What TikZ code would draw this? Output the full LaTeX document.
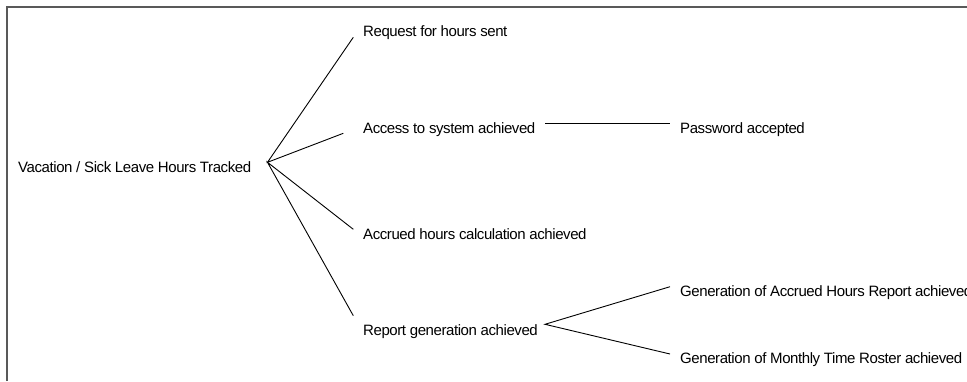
\documentclass[tikz,border=0pt]{standalone}
\usepackage{fontspec}
\setmainfont{Liberation Sans}[LetterSpace=-2.8]
\begin{document}
\begin{tikzpicture}[x=1pt,y=-1pt,
  goal/.style={anchor=base west,inner sep=0pt,font=\fontsize{15}{18}\selectfont},
  link/.style={draw=black,line width=0.9pt},
  frame/.style={draw=black!65,line width=1.6pt}]
\useasboundingbox (0,0) rectangle (967,381);
\clip (0,0) rectangle (967,381);

% frame (open at the bottom and right)
\draw[frame] (7,381) -- (7,7) -- (967,7);

% goals
\node[goal] (root) at (18,172.5) {Vacation / Sick Leave Hours Tracked};
\node[goal] (req)  at (363,36.5) {Request for hours sent};
\node[goal] (acc)  at (363,133) {Access to system achieved};
\node[goal] (accr) at (363,239) {Accrued hours calculation achieved};
\node[goal] (rep)  at (363,335) {Report generation achieved};
\node[goal] (pwd)  at (680,133) {Password accepted};
\node[goal] (genA) at (680,296.5) {Generation of Accrued Hours Report achieved};
\node[goal] (genM) at (680,363) {Generation of Monthly Time Roster achieved};

% branch points and line ends
\coordinate (rootfan) at (267.5,162.3);
\coordinate (reqend)  at (353.3,37.3);
\coordinate (accend)  at (343.3,133.3);
\coordinate (accrend) at (353.3,229.3);
\coordinate (repend)  at (353.3,315.7);
\coordinate (accout)  at (545,123.3);
\coordinate (pwdend)  at (670,123.3);
\coordinate (repfan)  at (545,324.3);
\coordinate (genAend) at (670,286.7);
\coordinate (genMend) at (670,354);

\draw[link] (reqend) -- (rootfan) -- (accend);
\draw[link] (accrend) -- (rootfan) -- (repend);
\draw[link] (accout) -- (pwdend);
\draw[link] (genAend) -- (repfan) -- (genMend);
\end{tikzpicture}
\end{document}
